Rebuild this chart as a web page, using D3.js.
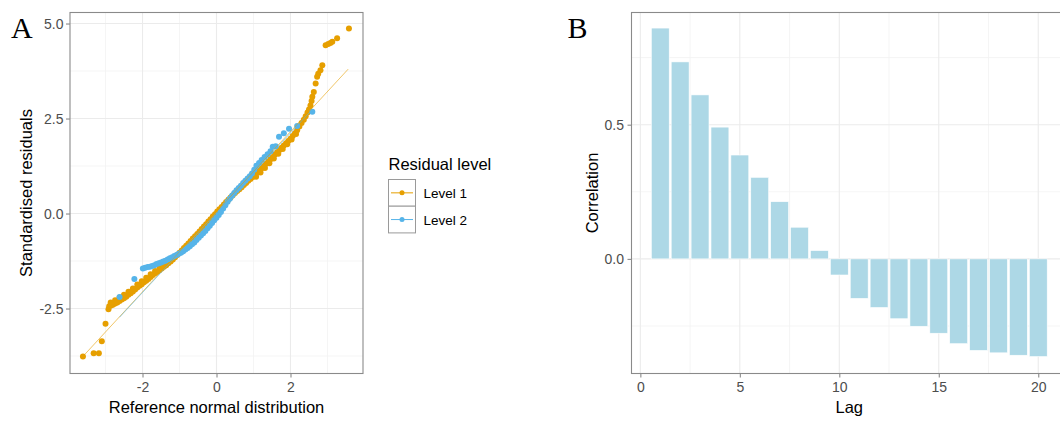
<!DOCTYPE html>
<html>
<head>
<meta charset="utf-8">
<style>
  body { margin: 0; background: #fff; }
  svg { display: block; }
</style>
</head>
<body>
<div id="container"></div>

<script src="https://d3js.org/d3.v7.min.js"></script>

<script>
  // ---- panel A data: QQ points [theoretical, sample] ----
  const level1Points = [
    [-3.61, -3.76], [-3.32, -3.68], [-3.18, -3.68], [-3.10, -3.36], [-3.00, -2.90],
    [-2.92, -2.52], [-2.90, -2.44], [-2.85, -2.42], [-2.80, -2.40], [-2.74, -2.37],
    [-2.68, -2.34], [-2.62, -2.30], [-2.56, -2.26], [-2.50, -2.23], [-2.44, -2.19],
    [-2.38, -2.14], [-2.32, -2.10], [-2.26, -2.05], [-2.20, -2.00], [-2.14, -1.95],
    [-2.08, -1.90], [-2.02, -1.86], [-1.96, -1.81], [-1.90, -1.77], [-1.84, -1.72],
    [-1.78, -1.67], [-1.72, -1.62], [-1.66, -1.57], [-1.60, -1.53], [-1.54, -1.49],
    [-1.48, -1.45], [-1.42, -1.40], [-1.36, -1.36], [-1.30, -1.31], [-1.24, -1.26],
    [-1.18, -1.21], [-1.12, -1.15], [-1.06, -1.09], [-1.00, -1.03], [-0.94, -0.97],
    [-0.88, -0.91], [-0.82, -0.85], [-0.76, -0.79], [-0.70, -0.72], [-0.64, -0.66],
    [-0.58, -0.60], [-0.52, -0.54], [-0.46, -0.47], [-0.40, -0.41], [-0.34, -0.34],
    [-0.28, -0.28], [-0.22, -0.21], [-0.16, -0.15], [-0.10, -0.08], [-0.04, -0.02],
    [0.02, 0.05], [0.08, 0.11], [0.14, 0.17], [0.20, 0.24], [0.26, 0.30],
    [0.32, 0.36], [0.38, 0.42], [0.44, 0.48], [0.50, 0.54], [0.56, 0.59],
    [0.62, 0.64], [0.68, 0.69], [0.74, 0.75], [0.80, 0.80], [0.86, 0.86],
    [0.92, 0.91], [0.98, 0.96], [1.04, 1.02], [1.10, 1.07], [1.16, 1.13],
    [1.22, 1.19], [1.28, 1.25], [1.34, 1.31], [1.40, 1.37], [1.46, 1.43],
    [1.52, 1.49], [1.58, 1.55], [1.64, 1.61], [1.70, 1.67], [1.76, 1.73],
    [1.82, 1.79], [1.88, 1.85], [1.94, 1.91], [2.00, 1.97], [2.06, 2.04],
    [2.12, 2.11], [2.18, 2.19], [2.24, 2.29], [2.30, 2.38], [2.36, 2.47],
    [2.41, 2.56], [2.46, 2.66], [2.50, 2.74], [2.54, 2.84],
    [2.57, 2.96], [2.59, 3.07], [2.63, 3.20], [2.68, 3.42], [2.72, 3.60],
    [2.75, 3.68], [2.81, 3.77], [2.86, 3.90], [2.95, 4.43], [3.02, 4.46],
    [3.08, 4.49], [3.13, 4.52], [3.26, 4.61], [3.58, 4.87],
    // second row where the band is thick
    [-2.86, -2.34], [-2.74, -2.28], [-2.62, -2.21], [-2.50, -2.14], [-2.38, -2.06],
    [-2.26, -1.97], [-2.14, -1.87], [-2.02, -1.78], [-1.90, -1.69], [-1.78, -1.60],
    [-1.66, -1.51], [-1.54, -1.43],
    [1.07, 0.97], [1.19, 1.08], [1.31, 1.20], [1.43, 1.32], [1.55, 1.45],
    [1.67, 1.57], [1.79, 1.70], [1.91, 1.82], [2.03, 1.95], [2.15, 2.09]
  ];

  const level2Points = [
    [-2.62, -2.20], [-2.22, -1.72], [-1.99, -1.45], [-1.93, -1.43], [-1.86, -1.41],
    [-1.80, -1.40], [-1.74, -1.38], [-1.68, -1.36], [-1.62, -1.33], [-1.56, -1.31],
    [-1.50, -1.29], [-1.44, -1.26], [-1.38, -1.24], [-1.32, -1.21], [-1.26, -1.18],
    [-1.20, -1.15], [-1.14, -1.12], [-1.08, -1.09], [-1.02, -1.06], [-0.96, -1.03],
    [-0.90, -0.99], [-0.84, -0.95], [-0.78, -0.91], [-0.72, -0.86], [-0.66, -0.81],
    [-0.60, -0.76], [-0.54, -0.70], [-0.48, -0.64], [-0.42, -0.58], [-0.36, -0.52],
    [-0.30, -0.46], [-0.24, -0.39], [-0.18, -0.32], [-0.12, -0.25], [-0.06, -0.18],
    [0.00, -0.11], [0.06, -0.04], [0.12, 0.04], [0.18, 0.13], [0.24, 0.22],
    [0.30, 0.31], [0.36, 0.39], [0.42, 0.47], [0.48, 0.54], [0.54, 0.61],
    [0.60, 0.67], [0.66, 0.73], [0.72, 0.80], [0.78, 0.86], [0.84, 0.92],
    [0.90, 0.98], [0.96, 1.05], [1.02, 1.15], [1.08, 1.26], [1.15, 1.33],
    [1.22, 1.41], [1.30, 1.49], [1.38, 1.56], [1.46, 1.64], [1.52, 1.76],
    [1.60, 1.77], [1.69, 2.02], [1.82, 2.11], [1.96, 2.23], [2.18, 2.30],
    [2.59, 2.68]
  ];

  // qq reference lines, end points
  const level1Line = [[-3.61, -3.76], [3.56, 3.80]];
  const level2Line = [[-2.62, -2.73], [2.59, 2.74]];

  const levelNames = ["Level 1", "Level 2"];
  const levelColors = ["#E69F00", "#56B4E9"];

  const aTicksX = [-2, 0, 2];
  const aTicksY = [-2.5, 0, 2.5, 5];
  const aMinorX = [-3, -1, 1, 3];
  const aMinorY = [-3.75, -1.25, 1.25, 3.75];

  // ---- panel B data: autocorrelation by lag ----
  const lags = [1, 2, 3, 4, 5, 6, 7, 8, 9, 10, 11, 12, 13, 14, 15, 16, 17, 18, 19, 20];
  const correlations = [0.860, 0.734, 0.611, 0.491, 0.387, 0.304, 0.213, 0.118, 0.031, -0.060,
                        -0.147, -0.181, -0.223, -0.251, -0.277, -0.316, -0.341, -0.350, -0.359, -0.364];

  const bTicksX = [0, 5, 10, 15, 20];
  const bTicksY = [0, 0.5];
  const bMinorX = [2.5, 7.5, 12.5, 17.5];
  const bMinorY = [-0.25, 0.25, 0.75];

  const W = 1060, H = 422;
  const sans = "'Liberation Sans', Arial, sans-serif";
  const serif = "'Liberation Serif', 'Times New Roman', serif";
  const tickGrey = "#4D4D4D";
  const borderGrey = "#8a8a8a";

  const svg = d3.select("#container")
    .append("svg")
    .attr("width", W)
    .attr("height", H)
    .attr("font-family", sans);

  // panel boxes (pixel edges)
  const pA = { left: 70, right: 363, top: 12.5, bottom: 373.5 };
  const pB = { left: 631.5, right: 1067, top: 12.5, bottom: 373.5 };

  const xA = d3.scaleLinear().domain([-3.96, 3.96]).range([pA.left, pA.right]);
  const yA = d3.scaleLinear().domain([-4.21, 5.29]).range([pA.bottom, pA.top]);

  const xB = d3.scaleLinear().domain([-0.445, 21.445]).range([pB.left, pB.right]);
  const yB = d3.scaleLinear().domain([-0.427, 0.918]).range([pB.bottom, pB.top]);

  function grid(g, p, x, y, majX, majY, minX, minY) {
    const gg = g.append("g");
    gg.selectAll(".minx").data(minX).enter().append("line")
      .attr("x1", d => x(d)).attr("x2", d => x(d))
      .attr("y1", p.top).attr("y2", p.bottom)
      .attr("stroke", "#F2F2F2").attr("stroke-width", 0.8);
    gg.selectAll(".miny").data(minY).enter().append("line")
      .attr("x1", p.left).attr("x2", p.right)
      .attr("y1", d => y(d)).attr("y2", d => y(d))
      .attr("stroke", "#F2F2F2").attr("stroke-width", 0.8);
    gg.selectAll(".majx").data(majX).enter().append("line")
      .attr("x1", d => x(d)).attr("x2", d => x(d))
      .attr("y1", p.top).attr("y2", p.bottom)
      .attr("stroke", "#EBEBEB").attr("stroke-width", 1.1);
    gg.selectAll(".majy").data(majY).enter().append("line")
      .attr("x1", p.left).attr("x2", p.right)
      .attr("y1", d => y(d)).attr("y2", d => y(d))
      .attr("stroke", "#EBEBEB").attr("stroke-width", 1.1);
  }

  function axes(p, x, y, ticksX, ticksY, fmtX, fmtY, padY) {
    const ax = svg.append("g")
      .attr("transform", `translate(0, ${p.bottom})`)
      .call(d3.axisBottom(x).tickValues(ticksX).tickFormat(fmtX).tickSize(4).tickPadding(5));
    const ay = svg.append("g")
      .attr("transform", `translate(${p.left}, 0)`)
      .call(d3.axisLeft(y).tickValues(ticksY).tickFormat(fmtY).tickSize(4).tickPadding(padY));
    [ax, ay].forEach(a => {
      a.select(".domain").remove();
      a.selectAll("line").attr("stroke", borderGrey).attr("stroke-width", 1.1);
      a.selectAll("text")
        .attr("fill", tickGrey)
        .style("font-size", "14px")
        .style("font-family", sans);
    });
  }

  function border(p) {
    svg.append("rect")
      .attr("x", p.left).attr("y", p.top)
      .attr("width", p.right - p.left).attr("height", p.bottom - p.top)
      .attr("fill", "none")
      .attr("stroke", borderGrey)
      .attr("stroke-width", 1.1);
  }

  // ================= panel A =================
  const gA = svg.append("g");
  grid(gA, pA, xA, yA, aTicksX, aTicksY, aMinorX, aMinorY);

  const seriesA = [level1Points, level2Points];
  const linesA = [level1Line, level2Line];

  seriesA.forEach((pts, i) => {
    gA.append("g")
      .selectAll("circle")
      .data(pts)
      .enter()
      .append("circle")
      .attr("cx", d => xA(d[0]))
      .attr("cy", d => yA(d[1]))
      .attr("r", 3)
      .attr("fill", levelColors[i]);
  });

  const line = d3.line().x(d => xA(d[0])).y(d => yA(d[1]));
  linesA.forEach((l, i) => {
    gA.append("path")
      .attr("d", line(l))
      .attr("fill", "none")
      .attr("stroke", levelColors[i])
      .attr("stroke-width", 0.7)
      .attr("opacity", 0.85);
  });

  border(pA);
  axes(pA, xA, yA, aTicksX, aTicksY, d => d, d => d.toFixed(1), 2.5);

  svg.append("text")
    .attr("x", (pA.left + pA.right) / 2)
    .attr("y", 413)
    .attr("text-anchor", "middle")
    .style("font-size", "16.5px")
    .text("Reference normal distribution");

  svg.append("text")
    .attr("transform", `translate(31.5, ${(pA.top + pA.bottom) / 2}) rotate(-90)`)
    .attr("text-anchor", "middle")
    .style("font-size", "16.5px")
    .text("Standardised residuals");

  svg.append("text")
    .attr("x", 11).attr("y", 38)
    .attr("font-family", serif)
    .style("font-size", "30px")
    .text("A");

  // legend
  const leg = svg.append("g").attr("transform", "translate(388.5, 0)");
  leg.append("text")
    .attr("x", 0).attr("y", 169.5)
    .style("font-size", "16.5px")
    .text("Residual level");

  const keyTop = 179.5, keyH = 26.7, keyW = 27;
  levelNames.forEach((name, i) => {
    const k = leg.append("g").attr("transform", `translate(0, ${keyTop + i * keyH})`);
    k.append("rect")
      .attr("width", keyW).attr("height", keyH)
      .attr("fill", "#fff")
      .attr("stroke", "#9a9a9a")
      .attr("stroke-width", 1);
    k.append("line")
      .attr("x1", 2.5).attr("x2", keyW - 2.5)
      .attr("y1", keyH / 2).attr("y2", keyH / 2)
      .attr("stroke", levelColors[i]).attr("stroke-width", 1);
    k.append("circle")
      .attr("cx", keyW / 2).attr("cy", keyH / 2)
      .attr("r", 2.5)
      .attr("fill", levelColors[i]);
    k.append("text")
      .attr("x", 35).attr("y", keyH / 2 + 5)
      .style("font-size", "13.5px")
      .text(name);
  });

  // ================= panel B =================
  const gB = svg.append("g");
  grid(gB, pB, xB, yB, bTicksX, bTicksY, bMinorX, bMinorY);

  const barW = xB(0.9) - xB(0);
  gB.append("g")
    .selectAll("rect")
    .data(lags.map((l, i) => ({ lag: l, r: correlations[i] })))
    .enter()
    .append("rect")
    .attr("x", d => xB(d.lag) - barW / 2)
    .attr("width", barW)
    .attr("y", d => yB(Math.max(0, d.r)))
    .attr("height", d => Math.abs(yB(d.r) - yB(0)))
    .attr("fill", "#ADD8E6")
    .attr("stroke", "#fff")
    .attr("stroke-width", 0.6);

  border(pB);
  axes(pB, xB, yB, bTicksX, bTicksY, d => d, d => d.toFixed(1), 3.5);

  svg.append("text")
    .attr("x", (pB.left + pB.right) / 2)
    .attr("y", 413)
    .attr("text-anchor", "middle")
    .style("font-size", "16.5px")
    .text("Lag");

  svg.append("text")
    .attr("transform", `translate(598, ${(pB.top + pB.bottom) / 2}) rotate(-90)`)
    .attr("text-anchor", "middle")
    .style("font-size", "16.5px")
    .text("Correlation");

  svg.append("text")
    .attr("x", 567.5).attr("y", 38)
    .attr("font-family", serif)
    .style("font-size", "30px")
    .text("B");
</script>
</body>
</html>
